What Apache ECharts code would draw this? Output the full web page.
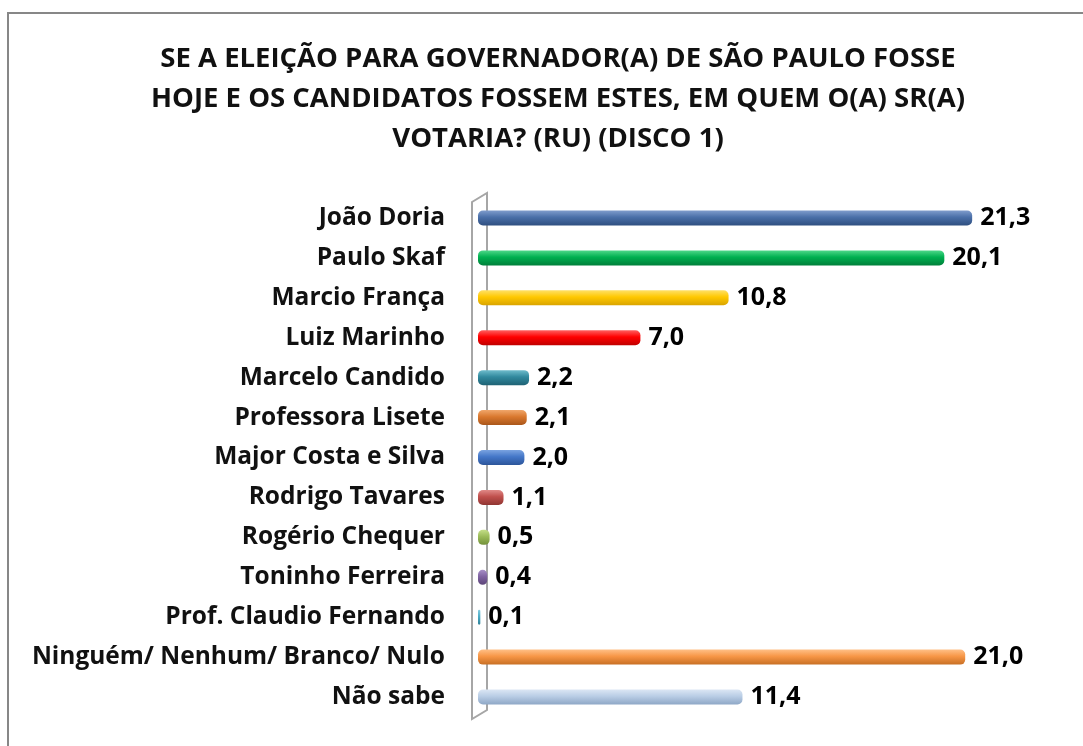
<!DOCTYPE html>
<html>
<head>
<meta charset="utf-8">
<script src="https://cdn.jsdelivr.net/npm/echarts@6/dist/echarts.min.js"></script>
<style>
  html, body { margin: 0; padding: 0; background: #fff; }
  #chart { width: 1083px; height: 746px; }
</style>
</head>
<body>
<div id="chart"></div>
<script>
const titleText = 'SE A ELEIÇÃO PARA GOVERNADOR(A) DE SÃO PAULO FOSSE\nHOJE E OS CANDIDATOS FOSSEM ESTES, EM QUEM O(A) SR(A)\nVOTARIA? (RU) (DISCO 1)'

const candidates = [
  'João Doria',
  'Paulo Skaf',
  'Marcio França',
  'Luiz Marinho',
  'Marcelo Candido',
  'Professora Lisete',
  'Major Costa e Silva',
  'Rodrigo Tavares',
  'Rogério Chequer',
  'Toninho Ferreira',
  'Prof. Claudio Fernando',
  'Ninguém/ Nenhum/ Branco/ Nulo',
  'Não sabe'
]

const votes = [21.3, 20.1, 10.8, 7.0, 2.2, 2.1, 2.0, 1.1, 0.5, 0.4, 0.1, 21.0, 11.4]

// light, mid, dark for the cylinder shading
const barColors = [
  ['#7f9ccc', '#4a6fa8', '#2f4f80'],
  ['#4fd88a', '#00b050', '#00803a'],
  ['#ffe066', '#ffc800', '#d9a400'],
  ['#ff6060', '#ff0000', '#c00000'],
  ['#6fbccc', '#31899e', '#1f6274'],
  ['#f0a66a', '#d9782e', '#a9561a'],
  ['#7aa3e0', '#4477c8', '#2c559a'],
  ['#e08a88', '#c0504d', '#903532'],
  ['#c4de88', '#9bbb59', '#72903a'],
  ['#a890c8', '#8064a2', '#5c4578'],
  ['#86cce0', '#4bacc6', '#2f8198'],
  ['#ffbf86', '#f79646', '#c76f24'],
  ['#dbe6f4', '#b9cde5', '#8ea7c6']
]

const chart = echarts.init(document.getElementById('chart'))

const seriesData = votes.map((v, i) => ({
  value: v,
  itemStyle: {
    color: new echarts.graphic.LinearGradient(0, 0, 0, 1, [
      { offset: 0, color: barColors[i][0] },
      { offset: 0.45, color: barColors[i][1] },
      { offset: 1, color: barColors[i][2] }
    ])
  }
}))

chart.setOption({
  backgroundColor: '#fff',
  animation: false,
  title: {
    text: titleText,
    left: 553,
    top: 34,
    textAlign: 'center',
    textStyle: {
      fontFamily: 'Open Sans',
      fontWeight: 'bold',
      fontSize: 27.5,
      lineHeight: 40,
      color: '#111'
    }
  },
  grid: {
    left: 478,
    right: 25,
    top: 198,
    bottom: 29
  },
  xAxis: {
    type: 'value',
    min: 0,
    max: 25,
    show: false
  },
  yAxis: {
    type: 'category',
    data: candidates,
    inverse: true,
    axisLine: { show: false },
    axisTick: { show: false },
    axisLabel: {
      margin: 33,
      fontFamily: 'Open Sans',
      fontWeight: 'bold',
      fontSize: 24.5,
      color: '#111'
    }
  },
  series: [{
    type: 'bar',
    data: seriesData,
    barWidth: 15,
    z: 3,
    itemStyle: { borderRadius: 5 },
    label: {
      show: true,
      position: 'right',
      distance: 8,
      fontFamily: 'Open Sans',
      fontWeight: 'bold',
      fontSize: 25,
      color: '#000',
      formatter: p => p.value.toFixed(1).replace('.', ',')
    }
  }]
})

// 3D "wall" behind the bars and the outer frame
const x0 = chart.convertToPixel({ xAxisIndex: 0 }, 0)
const gTop = 198
const gBottom = 746 - 29
chart.setOption({
  graphic: [
    {
      type: 'polygon',
      z: 1,
      shape: {
        points: [
          [x0 - 6, gTop + 4],
          [x0 + 9, gTop - 5],
          [x0 + 9, gBottom - 7],
          [x0 - 6, gBottom + 2]
        ]
      },
      style: { fill: 'rgba(0,0,0,0)', stroke: '#a6a6a6', lineWidth: 2 }
    },
    {
      type: 'polyline',
      z: 1,
      shape: { points: [[8, 746], [8, 13], [1083, 13]] },
      style: { fill: null, stroke: '#878787', lineWidth: 2 }
    }
  ]
})
</script>
</body>
</html>
